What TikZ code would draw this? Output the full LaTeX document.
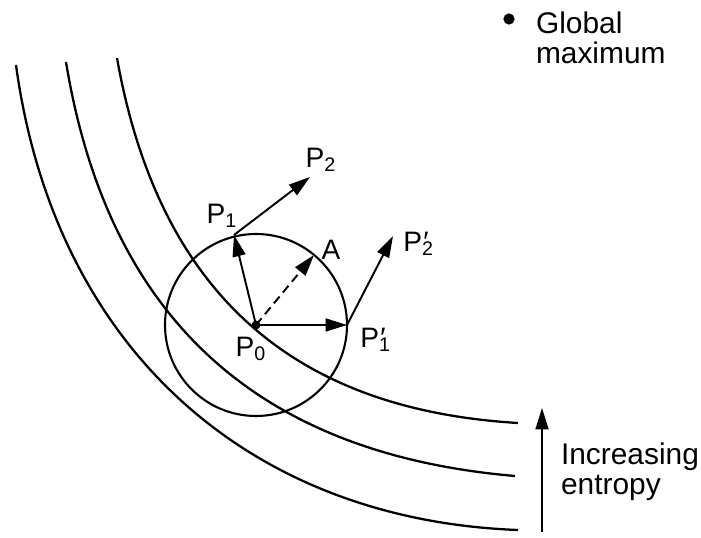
\documentclass[tikz,border=0pt]{standalone}
\usepackage{fontspec}
\setmainfont{Liberation Sans}
\usepackage{tikz}
\usetikzlibrary{arrows.meta}

\newcommand{\lblsub}[1]{P\textsubscript{#1}}
\newcommand{\lblprime}[1]{P\rlap{\textsubscript{#1}}\kern0.05em\symbol{"2032}}

\begin{document}
\begin{tikzpicture}[x=0.2mm, y=0.2mm, line width=1.2pt,
	every node/.style={font=\fontsize{16}{17}\selectfont, inner sep=0pt},
	>={Triangle[length=4.3mm, width=2.6mm]},
	contour/.style={line width=1.3pt},
	vec/.style={->, line width=1.1pt},
	textblock/.style={align=left, anchor=west, font=\fontsize{17}{17}\selectfont}]
	\useasboundingbox (0,0) rectangle (701,538);
	\draw[contour] (117,480) .. controls (160,238) and (300,128) .. (518,115);
	\draw[contour] (66,476) .. controls (110,208) and (270,83) .. (515,62);
	\draw[contour] (16,473) .. controls (55,188) and (250,18) .. (518,8);
	\coordinate (P0) at (256,213);
	\coordinate (P1) at (234,303);
	\coordinate (P2) at (310,361);
	\coordinate (A) at (314,283);
	\coordinate (P1p) at (347,213);
	\coordinate (P2p) at (393,302);
	\draw (P0) circle (91);
	\fill (P0) circle (2.5pt);
	\draw[vec] (P0) -- (P1);
	\draw[vec] (P1) -- (P2);
	\draw[vec] (P0) -- (P1p);
	\draw[vec] (P1p) -- (P2p);
	\draw[vec, dash pattern=on 5pt off 3pt] (P0) -- (A);
	\node (lP0) at (251,189) {\lblsub{0}};
	\node (lP1) at (222,322) {\lblsub{1}};
	\node (lP2) at (321,378) {\lblsub{2}};
	\node (lA) at (331,288) {A};
	\node (lP1p) at (373,198) {\lblprime{1}};
	\node (lP2p) at (416,294) {\lblprime{2}};
	\fill (509,519) circle (3.2pt);
	\node[textblock] (gmax) at (535,500) {Global\\maximum};
	\coordinate (eLow) at (542,6);
	\coordinate (eHigh) at (542,130);
	\draw[vec] (eLow) -- (eHigh);
	\node[textblock] (incr) at (560,66) {Increasing\\entropy};
\end{tikzpicture}
\end{document}
